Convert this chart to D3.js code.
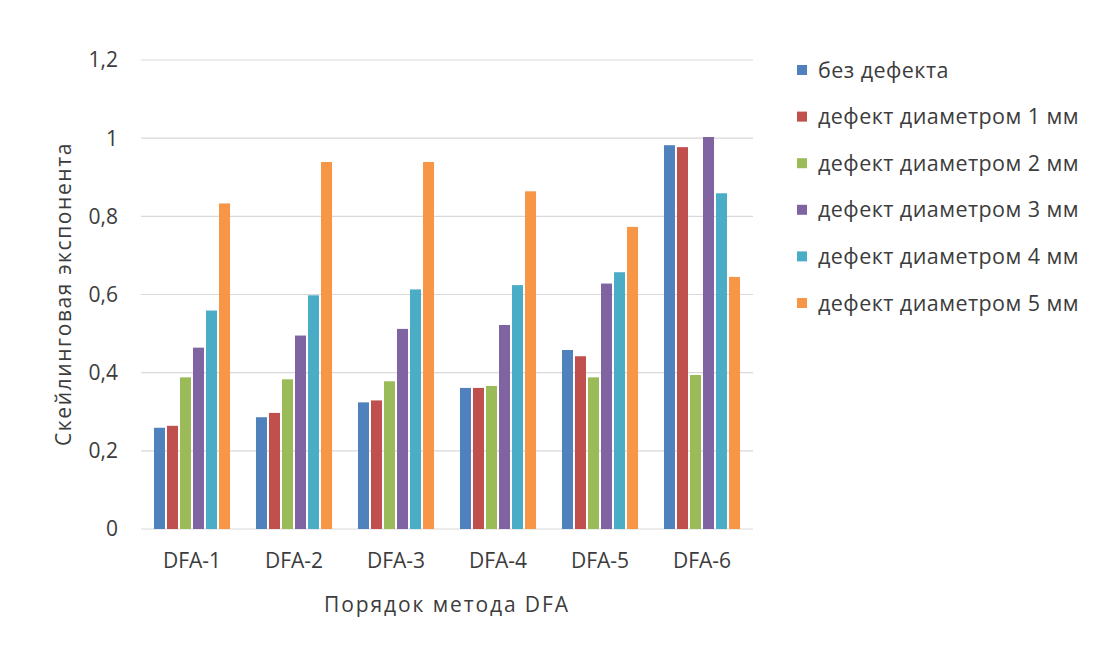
<!DOCTYPE html>
<html><head><meta charset="utf-8">
<script src="https://cdn.jsdelivr.net/npm/d3@7"></script>
<style>body{margin:0;background:#fff}svg{display:block}text{font-family:"Open Sans",sans-serif;fill:#3c3c3c}</style>
</head><body>
<script>
const categories = ["DFA-1","DFA-2","DFA-3","DFA-4","DFA-5","DFA-6"];
const seriesNames = ["без дефекта","дефект диаметром 1 мм","дефект диаметром 2 мм","дефект диаметром 3 мм","дефект диаметром 4 мм","дефект диаметром 5 мм"];
const s0 = [0.259,0.286,0.324,0.361,0.458,0.982];
const s1 = [0.264,0.297,0.329,0.361,0.442,0.977];
const s2 = [0.388,0.383,0.378,0.366,0.388,0.394];
const s3 = [0.464,0.495,0.512,0.522,0.628,1.003];
const s4 = [0.559,0.598,0.613,0.624,0.657,0.859];
const s5 = [0.833,0.939,0.939,0.864,0.773,0.645];
const seriesValues = [s0,s1,s2,s3,s4,s5];
const colors = ["#4F81BD","#C0504D","#9BBB59","#8064A2","#4BACC6","#F79646"];
const yTicks = [0,0.2,0.4,0.6,0.8,1,1.2];
const yTickLabels = ["0","0,2","0,4","0,6","0,8","1","1,2"];

const W=1096,H=646;
const svg=d3.select("body").append("svg").attr("width",W).attr("height",H);
const x0=d3.scaleBand().domain(categories).range([141,753]);
const x1=d3.scaleBand().domain(seriesNames).range([0,x0.bandwidth()]).paddingOuter(0.92);
const y=d3.scaleLinear().domain([0,1.2]).range([529,60]);

// grid
svg.append("g").selectAll("line").data(yTicks).join("line")
 .attr("x1",141).attr("x2",753).attr("y1",d=>y(d)).attr("y2",d=>y(d))
 .attr("stroke","#D9D9D9").attr("stroke-width",1.2);
// y labels
svg.append("g").selectAll("text").data(yTicks).join("text")
 .attr("x",118).attr("y",d=>y(d)).attr("dy","0.35em").attr("text-anchor","end")
 .attr("font-size",21).text((d,i)=>yTickLabels[i]);
// bars
const g=svg.append("g");
seriesValues.forEach((vals,si)=>{
 g.append("g").selectAll("rect").data(vals).join("rect")
  .attr("x",(d,i)=>x0(categories[i])+x1(seriesNames[si])+1)
  .attr("width",x1.bandwidth()-2)
  .attr("y",d=>y(d)).attr("height",d=>y(0)-y(d))
  .attr("fill",colors[si]);
});
// x labels
svg.append("g").selectAll("text").data(categories).join("text")
 .attr("x",d=>x0(d)+x0.bandwidth()/2).attr("y",561).attr("dy","0.35em")
 .attr("text-anchor","middle").attr("font-size",21).text(d=>d);
// axis titles
svg.append("text").attr("x",447).attr("y",605).attr("dy","0.35em").attr("text-anchor","middle")
 .attr("font-size",21).attr("letter-spacing",1.9).text("Порядок метода DFA");
svg.append("text").attr("transform","translate(64,294) rotate(-90)").attr("dy","0.35em")
 .attr("text-anchor","middle").attr("font-size",21).attr("letter-spacing",1.6).text("Скейлинговая экспонента");
// legend
const leg=svg.append("g").selectAll("g").data(seriesNames).join("g")
 .attr("transform",(d,i)=>`translate(797,${70+i*46.6})`);
leg.append("rect").attr("x",0).attr("y",-5).attr("width",10).attr("height",10).attr("fill",(d,i)=>colors[i]);
leg.append("text").attr("x",21).attr("y",0).attr("dy","0.35em").attr("font-size",21.5).attr("letter-spacing",0.45).text(d=>d);
</script>
</body></html>
